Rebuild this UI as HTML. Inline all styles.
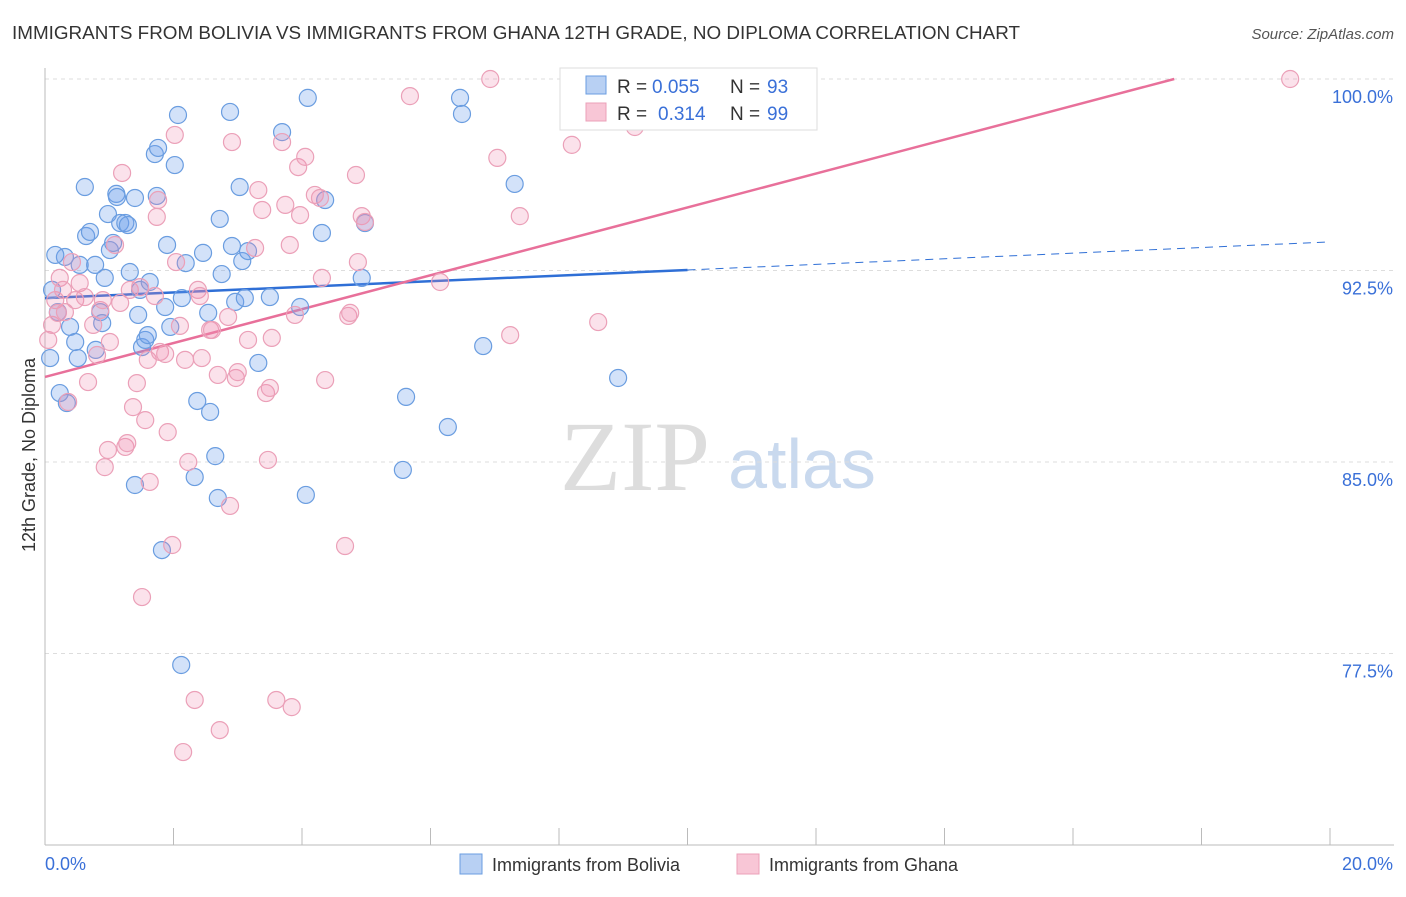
<!DOCTYPE html>
<html><head><meta charset="utf-8"><style>
body{margin:0;background:#fff;font-family:"Liberation Sans",sans-serif;}
</style></head><body>
<svg id="chart" width="1406" height="892" font-family="Liberation Sans, sans-serif">
<text x="12" y="39" font-size="18" fill="#333" textLength="1008" lengthAdjust="spacingAndGlyphs">IMMIGRANTS FROM BOLIVIA VS IMMIGRANTS FROM GHANA 12TH GRADE, NO DIPLOMA CORRELATION CHART</text>
<text x="1394" y="39" font-size="15" fill="#555" text-anchor="end" font-style="italic">Source: ZipAtlas.com</text>
<text x="35" y="455" font-size="18" fill="#333" text-anchor="middle" transform="rotate(-90 35 455)">12th Grade, No Diploma</text>
<g><text x="635" y="490" font-size="100" fill="#ddd" text-anchor="middle" style="font-family:'Liberation Serif',serif">ZIP</text><text x="802" y="488" font-size="70" fill="#c9d9ee" text-anchor="middle">atlas</text></g>
<g id="grid"></g><g id="axes"></g><g id="trends"></g><g id="points"></g>
<g>
<rect x="560" y="68" width="257" height="62" fill="#fff" stroke="#ddd"/>
<rect x="586" y="76" width="20" height="18" fill="#b8d0f3" stroke="#6a9de0"/>
<text y="93" font-size="19" fill="#333"><tspan x="617">R =</tspan><tspan x="652" fill="#3a70d8">0.055</tspan><tspan x="730">N =</tspan><tspan x="767" fill="#3a70d8">93</tspan></text>
<rect x="586" y="103" width="20" height="18" fill="#f8c6d6" stroke="#eba0b8"/>
<text y="120" font-size="19" fill="#333"><tspan x="617">R =</tspan><tspan x="658" fill="#3a70d8">0.314</tspan><tspan x="730">N =</tspan><tspan x="767" fill="#3a70d8">99</tspan></text>
</g>
<g>
<rect x="460" y="854" width="22" height="20" fill="#b8d0f3" stroke="#6a9de0"/>
<text x="492" y="871" font-size="18" fill="#333">Immigrants from Bolivia</text>
<rect x="737" y="854" width="22" height="20" fill="#f8c6d6" stroke="#eba0b8"/>
<text x="769" y="871" font-size="18" fill="#333">Immigrants from Ghana</text>
</g>
</svg>
<script>
const yTicks=[100,92.5,85,77.5];
const yTickLabels=["100.0%","92.5%","85.0%","77.5%"];
const xTickLabels=["0.0%","20.0%"];
const blueX=[0.11,0.08,0.20,0.23,0.31,0.34,0.39,0.47,0.51,0.54,0.62,0.64,0.70,0.78,0.79,0.86,0.89,0.93,0.98,1.01,1.06,1.11,1.12,1.17,1.25,1.29,1.32,1.40,1.40,1.45,1.48,1.51,1.56,1.60,1.63,1.71,1.74,1.76,1.82,1.87,1.90,1.95,2.02,2.07,2.13,2.19,2.33,2.37,2.46,2.54,2.57,2.65,2.69,2.72,2.75,2.88,2.91,2.96,3.03,3.07,3.11,3.16,3.32,3.50,3.69,3.97,4.06,4.09,4.31,4.36,4.93,4.98,5.57,5.62,6.27,6.46,6.49,6.82,7.31,8.92,2.12,0.16];
const blueY=[91.74,89.07,90.87,87.70,93.03,87.31,90.29,89.70,89.07,92.72,95.77,93.85,94.01,92.72,89.39,90.87,90.44,92.21,94.71,93.30,93.58,95.50,95.38,94.36,94.36,94.28,92.44,95.34,84.10,90.76,91.74,89.50,89.78,89.97,92.05,97.06,95.42,97.30,81.55,91.07,93.50,90.29,96.63,98.59,91.42,92.79,84.41,87.39,93.19,90.84,86.96,85.23,83.59,94.52,92.36,98.71,93.46,91.27,95.77,92.87,91.42,93.26,88.88,91.46,97.92,91.07,83.71,99.26,93.97,95.26,92.21,94.36,84.69,87.55,86.37,99.26,98.63,89.54,95.89,88.29,77.05,93.11];
const pinkX=[0.05,0.11,0.16,0.20,0.23,0.28,0.31,0.36,0.42,0.47,0.54,0.62,0.67,0.75,0.81,0.86,0.90,0.93,0.98,1.01,1.09,1.17,1.20,1.25,1.28,1.32,1.37,1.43,1.48,1.51,1.56,1.60,1.63,1.71,1.74,1.76,1.79,1.87,1.91,1.98,2.02,2.04,2.10,2.18,2.23,2.33,2.38,2.41,2.44,2.57,2.60,2.69,2.72,2.85,2.88,2.91,2.97,3.00,3.16,3.27,3.32,3.38,3.44,3.47,3.50,3.53,3.60,3.69,3.74,3.81,3.84,3.89,3.94,3.97,4.05,4.20,4.28,4.31,4.36,4.67,4.72,4.75,4.84,4.87,4.93,4.98,5.68,6.15,6.93,7.04,7.24,7.39,8.20,8.61,9.18,19.38,2.15];
const pinkY=[89.78,90.37,91.34,90.84,92.21,91.74,90.87,87.35,92.83,91.34,92.01,91.46,88.13,90.37,89.19,90.95,91.34,84.80,85.47,89.70,93.50,91.23,96.32,85.59,85.74,91.74,87.15,88.09,91.85,79.71,86.64,89.00,84.22,91.50,94.60,95.26,89.31,89.23,86.17,81.75,97.81,92.83,90.33,89.00,85.00,75.68,91.74,91.50,89.07,90.17,90.17,88.41,74.50,90.68,83.28,97.53,88.29,88.52,89.78,93.38,95.65,94.87,87.70,85.08,87.90,89.86,75.68,97.53,95.07,93.50,75.40,90.76,96.55,94.67,96.95,95.46,95.34,92.21,88.21,81.71,90.72,90.84,96.24,92.83,94.63,94.40,99.33,92.05,100.00,96.91,89.97,94.63,97.42,90.48,98.12,100.00,73.64];
const blueTrend=[91.42,0.11]; // intercept, slope
const pinkTrend=[88.33,0.664];
const ns="http://www.w3.org/2000/svg";
const X=v=>45+v/20*1285;
const Y=v=>79+(100-v)/7.5*191.5;
function mk(t,a,p){const e=document.createElementNS(ns,t);for(const k in a)e.setAttribute(k,a[k]);p.appendChild(e);return e;}
const grid=document.getElementById('grid'),axes=document.getElementById('axes'),tr=document.getElementById('trends'),pts=document.getElementById('points');
yTicks.forEach((t,i)=>{
 const l=mk('line',{x1:45,x2:1394,y1:Y(t),y2:Y(t),stroke:'#ddd','stroke-dasharray':'4 4'},grid);
 
 
 const tx=mk('text',{x:1393,y:Y(t)+24,'font-size':18,fill:'#3a70d8','text-anchor':'end'},axes);
 tx.textContent=yTickLabels[i];
 
 
});
const xa=mk('line',{x1:45,x2:1394,y1:845,y2:845,stroke:'#bbb'},axes);


const ya=mk('line',{x1:45,x2:45,y1:68,y2:845,stroke:'#bbb'},axes);


for(let i=0;i<=10;i++){const t=mk('line',{x1:X(i*2),x2:X(i*2),y1:828,y2:845,stroke:'#bbb'},axes);
 
 }
[[0,45,'start'],[20,1393,'end']].forEach((d,i)=>{const t=mk('text',{x:d[1],y:870,'font-size':18,fill:'#3a70d8','text-anchor':d[2]},axes);t.textContent=xTickLabels[i];
 
 });
function dots(xs,ys,fill,stroke,name){xs.forEach((x,i)=>{const c=mk('circle',{cx:X(x),cy:Y(ys[i]),r:8.5,fill:fill,stroke:stroke,'stroke-width':1.2},pts);
 
 });}
dots(blueX,blueY,'rgba(110,160,235,0.3)','#6a9de0','point-bolivia');
dots(pinkX,pinkY,'rgba(240,140,175,0.25)','#eba0b8','point-ghana');
const b1=mk('line',{x1:X(0),y1:Y(blueTrend[0]),x2:X(10),y2:Y(blueTrend[0]+blueTrend[1]*10),stroke:'#2f6fd6','stroke-width':2.5},tr);


const b2=mk('line',{x1:X(10),y1:Y(blueTrend[0]+blueTrend[1]*10),x2:X(20),y2:Y(blueTrend[0]+blueTrend[1]*20),stroke:'#2f6fd6','stroke-width':1,'stroke-dasharray':'8 6'},tr);


const xe=(100-pinkTrend[0])/pinkTrend[1];
const p1=mk('line',{x1:X(0),y1:Y(pinkTrend[0]),x2:X(xe),y2:Y(100),stroke:'#e8709a','stroke-width':2.5},tr);


</script>
</body></html>
